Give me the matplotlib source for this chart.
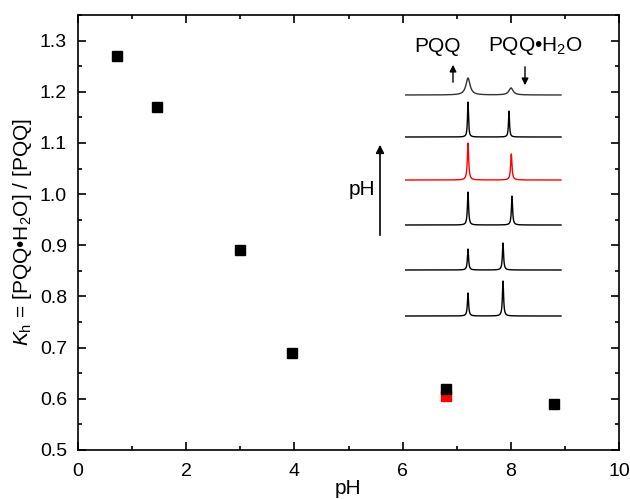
import numpy as np
import matplotlib.pyplot as plt
from matplotlib.ticker import MultipleLocator, FormatStrFormatter

plt.rcParams['font.family'] = ['Liberation Sans', 'DejaVu Sans']
plt.rcParams['mathtext.fontset'] = 'custom'
plt.rcParams['mathtext.rm'] = 'Liberation Sans'
plt.rcParams['mathtext.it'] = 'Liberation Sans:italic'

# hydration constant vs pH
ph = [0.73, 1.46, 3.0, 3.95, 6.8, 8.8]
kh = [1.27, 1.17, 0.89, 0.69, 0.62, 0.59]
ph_red = [6.8]
kh_red = [0.605]

# inset spectra (arbitrary shift units, bottom trace = lowest pH)
spec_offset = [0, 46, 91, 136, 179, 221]
peak1_pos = [63, 63, 63, 63, 63, 63]
peak2_pos = [98, 98, 107, 106.3, 104, 106]
peak1_h = [23, 21, 33, 37, 35, 17]
peak2_h = [35, 27, 29, 26, 26, 7]
peak_w = [0.7, 0.7, 0.7, 0.8, 0.6, 2.5]
spec_color = ['black', 'black', 'black', 'red', 'black', '#333333']

fig = plt.figure(figsize=(6.3, 4.99), dpi=100)
ax = fig.add_axes([78/630, 1-450/499, 541/630, 435/499])

ax.plot(ph, kh, 's', color='black', markersize=7.2, zorder=3)
ax.plot(ph_red, kh_red, 's', color='red', markersize=7.2, zorder=2)

ax.set_xlim(0, 10)
ax.set_ylim(0.5, 1.35)
ax.xaxis.set_major_locator(MultipleLocator(2))
ax.xaxis.set_minor_locator(MultipleLocator(1))
ax.yaxis.set_major_locator(MultipleLocator(0.1))
ax.yaxis.set_minor_locator(MultipleLocator(0.05))
ax.yaxis.set_major_formatter(FormatStrFormatter('%.1f'))
ax.tick_params(which='both', direction='in', top=True, right=True, labelsize=14, width=1.2)
ax.tick_params(which='major', length=6)
ax.tick_params(which='minor', length=3)
ax.tick_params(axis='x', pad=9)
ax.tick_params(axis='y', pad=8)
for s in ax.spines.values():
    s.set_linewidth(1.2)

ax.set_xlabel('pH', fontsize=15, labelpad=0)
ax.set_ylabel('$K_\\mathrm{h}$ = [PQQ•H$_2$O] / [PQQ]', fontsize=15, labelpad=4)

# inset with NMR-like traces
ins = fig.add_axes([405/630, 1-330/499, 157/630, 270/499])
ins.set_xlim(0, 157)
ins.set_ylim(0, 270)
ins.axis('off')
xs = np.linspace(0, 156, 1200)
for i in range(len(spec_offset)):
    base = 14 + spec_offset[i]
    y = np.full_like(xs, base, dtype=float)
    w = peak_w[i]
    y += peak1_h[i] * w**2 / ((xs - peak1_pos[i])**2 + w**2)
    y += peak2_h[i] * w**2 / ((xs - peak2_pos[i])**2 + w**2)
    ins.plot(xs, y, color=spec_color[i], lw=1.0)

fig.text(438/630, 1-46/499, 'PQQ', fontsize=15, ha='center', va='center')
fig.text(535/630, 1-46/499, 'PQQ•H$_2$O', fontsize=15, ha='center', va='center')

arr = dict(arrowstyle='-|>', color='black', lw=1.0, mutation_scale=10)
ax.annotate('', xy=(453, 499-62), xytext=(453, 499-85), xycoords='figure pixels', arrowprops=arr)
ax.annotate('', xy=(525, 499-88), xytext=(525, 499-64), xycoords='figure pixels', arrowprops=arr)
ax.annotate('', xy=(380, 499-142), xytext=(380, 499-238), xycoords='figure pixels',
            arrowprops=dict(arrowstyle='-|>', color='black', lw=1.2, mutation_scale=12))
fig.text(362/630, 1-190/499, 'pH', fontsize=15, ha='center', va='center')

fig.savefig('out.png', dpi=100)
